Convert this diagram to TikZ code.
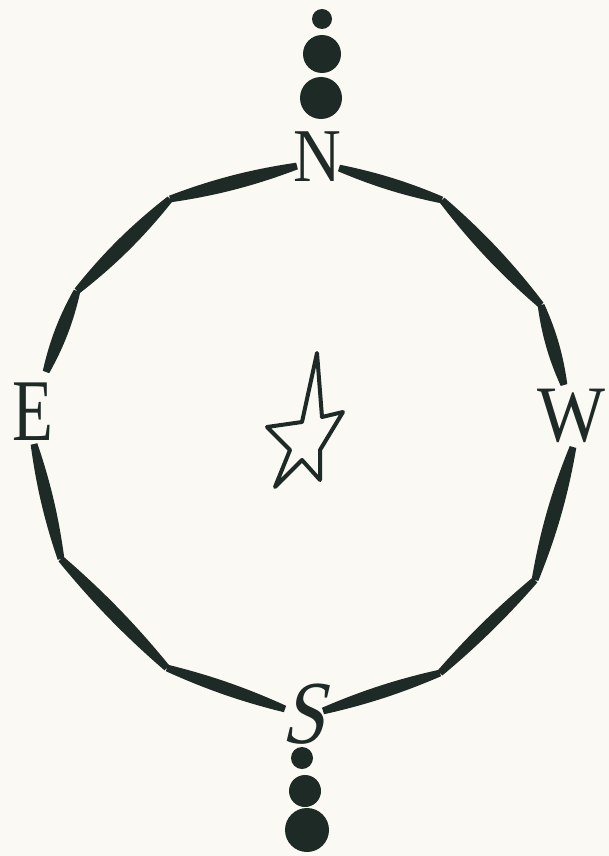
\documentclass[tikz,border=0pt]{standalone}
\usepackage{fontspec}
\setmainfont{Liberation Serif}
\newfontfamily\compassSlanted{Liberation Serif}[FakeSlant=0.28]
\usetikzlibrary{calc}
\definecolor{compassInk}{HTML}{1E2A26}
\definecolor{compassPaper}{HTML}{FBF9F4}
\tikzset{
  compass diagram/.style={
    x=1pt, y=-1pt, line join=round, line cap=round,
    every node/.style={text=compassInk, inner sep=0pt, outer sep=0pt,
      font=\fontsize{76}{76}\selectfont}
  },
  compass ring/.style={fill=compassInk},
  compass star/.style={draw=compassInk, line width=4pt},
  compass dot/.style={fill=compassInk}
}
\newcommand{\CompassStroke}[3]{%
  \fill[compass ring] ($(#1)!3.4pt!90:(#2)$)
    .. controls ($(#1)!0.35!(#2)!#3pt!90:(#2)$)
    and ($(#1)!0.65!(#2)!#3pt!90:(#2)$) .. ($(#2)!3.4pt!-90:(#1)$)
    -- ($(#2)!3.4pt!90:(#1)$)
    .. controls ($(#1)!0.65!(#2)!#3pt!-90:(#2)$)
    and ($(#1)!0.35!(#2)!#3pt!-90:(#2)$) .. ($(#1)!3.4pt!-90:(#2)$)
    -- cycle;
}

\begin{document}
\begin{tikzpicture}[compass diagram]
    \fill[compassPaper] (0,0) rectangle (609,856);
    % ring vertices
    \coordinate (nw0) at (297,166);
    \coordinate (nw1) at (170,199);
    \coordinate (nw2) at (77,291);
    \coordinate (nw3) at (46,372);
    \coordinate (sw0) at (34,444);
    \coordinate (sw1) at (61,559);
    \coordinate (sw2) at (167,668);
    \coordinate (sw3) at (285,709);
    \coordinate (se0) at (323,711);
    \coordinate (se1) at (440,673);
    \coordinate (se2) at (535,580);
    \coordinate (se3) at (573,447);
    \coordinate (ne0) at (564,385);
    \coordinate (ne1) at (541,305);
    \coordinate (ne2) at (442,200);
    \coordinate (ne3) at (339,168);
    \foreach \ringFrom/\ringTo/\ringBulge in {
      nw0/nw1/8.4, nw1/nw2/8.8, nw2/nw3/7.8,
      sw0/sw1/7.4, sw1/sw2/8, sw2/sw3/7.4,
      se0/se1/7.4, se1/se2/7, se2/se3/8.6,
      ne0/ne1/7.6, ne1/ne2/8.6, ne2/ne3/7.2
    } {
      \CompassStroke{\ringFrom}{\ringTo}{\ringBulge}
    }
    \node[xscale=0.87] (north) at (317,157) {N};
    \node[font=\fontsize{88}{88}\selectfont, xscale=0.76] (east) at (33,412) {E};
    \node[font=\fontsize{80}{80}\selectfont, xscale=0.9] (west) at (571,416) {W};
    \node[font=\compassSlanted\fontsize{90}{90}\selectfont, xscale=0.85]
      (south) at (303,714) {S};
    \draw[compass star] (317,353) -- (322,417) -- (343,412) -- (320,450)
      -- (320,480) -- (302,460) -- (275,487) -- (290,450) -- (267,427)
      -- (302,422) -- cycle;
    \foreach \dotX/\dotY/\dotR in {
      322/19/10, 322/54/19, 321/98/21,
      302/758/11, 305/791/16, 307/830/22
    } {
      \fill[compass dot] (\dotX,\dotY) circle[radius=\dotR];
    }
  \end{tikzpicture}
\end{document}
